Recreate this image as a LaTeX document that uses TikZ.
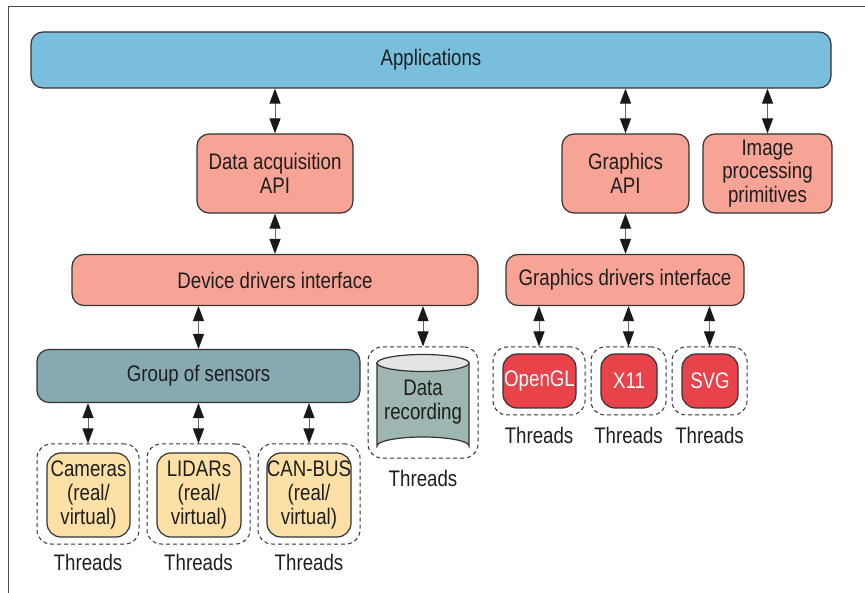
\documentclass[tikz,border=0pt]{standalone}
\usepackage{fontspec}
\setmainfont{Liberation Sans}[FakeStretch=0.83]
\usetikzlibrary{arrows.meta,calc}
\definecolor{ink}{HTML}{1E1E1E}
\definecolor{edge}{HTML}{333333}
\definecolor{appblue}{HTML}{79BFDD}
\definecolor{salmon}{HTML}{F7A395}
\definecolor{sensor}{HTML}{86A9B2}
\definecolor{sandy}{HTML}{FDE0A5}
\definecolor{gfxred}{HTML}{E8434A}
\definecolor{drumbody}{HTML}{9DB6B1}
\definecolor{drumtop}{HTML}{E3E5E5}
\definecolor{shaft}{HTML}{666666}
\begin{document}
\begin{tikzpicture}[x=1pt,y=-1pt,
  lbl/.style={font=\fontsize{22.5}{23.8}\selectfont, text=ink, align=center, inner sep=0pt},
  box/.style={lbl, draw=edge, line width=1.2pt, rounded corners=12pt},
  wrap/.style={draw=edge, line width=1pt, dash pattern=on 4pt off 3pt, rounded corners=14pt, inner sep=0pt},
  dbl/.style={draw=shaft, line width=1pt, {Triangle[length=15pt,width=11pt,color=black!90]}-{Triangle[length=15pt,width=11pt,color=black!90]}}
]
\useasboundingbox (0,0) rectangle (865,593);
% outer frame
\draw[line width=1pt, draw=black!70] (8,593) -- (8,7) -- (865,7);

% top layer
\node[box, fill=appblue, minimum width=800pt, minimum height=56pt] (app) at (431,60) {Applications};

% API layer
\node[box, fill=salmon, minimum width=156pt, minimum height=79pt] (dacq) at (275,173.5) {Data acquisition\\API};
\node[box, fill=salmon, minimum width=127pt, minimum height=79pt] (gapi) at (625.5,173.5) {Graphics\\API};
\node[box, fill=salmon, minimum width=129pt, minimum height=79pt] (imgp) at (767.5,173.5) {Image\\processing\\primitives};

% driver interfaces
\node[box, fill=salmon, minimum width=406pt, minimum height=51pt] (dev) at (275,280) {Device drivers interface};
\node[box, fill=salmon, minimum width=238pt, minimum height=51pt] (gdrv) at (625,280) {Graphics drivers interface};

% sensors
\node[box, fill=sensor, minimum width=323pt, minimum height=53pt] (group) at (198.5,376) {Group of sensors};

% sensor threads
\node[wrap, minimum width=102pt, minimum height=100pt] (camw) at (88,494) {};
\node[box, fill=sandy, rounded corners=14pt, minimum width=83pt, minimum height=84pt] (cam) at (88.5,495) {Cameras\\(real/\\virtual)};
\node[wrap, minimum width=103pt, minimum height=100pt] (lidw) at (198.5,494) {};
\node[box, fill=sandy, rounded corners=14pt, minimum width=84pt, minimum height=84pt] (lid) at (199,495) {LIDARs\\(real/\\virtual)};
\node[wrap, minimum width=102pt, minimum height=100pt] (canw) at (309,494) {};
\node[box, fill=sandy, rounded corners=14pt, minimum width=84pt, minimum height=84pt] (can) at (309,495) {CAN-BUS\\(real/\\virtual)};
\node[lbl] (camt) at (88,562) {Threads};
\node[lbl] (lidt) at (198.5,562) {Threads};
\node[lbl] (cant) at (309,562) {Threads};

% data recording
\node[wrap, minimum width=110pt, minimum height=111pt] (recw) at (423,402.5) {};
\filldraw[fill=drumbody, draw=edge, line width=1.2pt]
  (377,363) -- (377,446) arc[start angle=180, end angle=360, x radius=46pt, y radius=-9pt] -- (469,363) -- cycle;
\filldraw[fill=drumtop, draw=edge, line width=1.2pt] (423,363) ellipse[x radius=46pt, y radius=8.5pt];
\node[lbl] (rec) at (423,402) {Data\\recording};
\node[lbl] (rect) at (423,478) {Threads};

% graphics back-ends
\node[wrap, minimum width=92pt, minimum height=68pt] (oglw) at (539,381) {};
\node[box, fill=gfxred, text=white, rounded corners=14pt, minimum width=73pt, minimum height=54pt] (ogl) at (539.5,381) {OpenGL};
\node[wrap, minimum width=75pt, minimum height=68pt] (x11w) at (628.5,381) {};
\node[box, fill=gfxred, text=white, rounded corners=14pt, minimum width=56pt, minimum height=54pt] (x11) at (629,381) {X11};
\node[wrap, minimum width=75pt, minimum height=68pt] (svgw) at (709.5,381) {};
\node[box, fill=gfxred, text=white, rounded corners=14pt, minimum width=56pt, minimum height=54pt] (svg) at (710,381) {SVG};
\node[lbl] (oglt) at (539,435) {Threads};
\node[lbl] (x11t) at (628.5,435) {Threads};
\node[lbl] (svgt) at (709.5,435) {Threads};

% connectors
\draw[dbl] (app.south -| dacq.north) -- (dacq.north);
\draw[dbl] (app.south -| gapi.north) -- (gapi.north);
\draw[dbl] (app.south -| imgp.north) -- (imgp.north);
\draw[dbl] (dacq.south) -- (dev.north -| dacq.south);
\draw[dbl] (gapi.south) -- (gdrv.north -| gapi.south);
\draw[dbl] (dev.south -| group.north) -- (group.north);
\draw[dbl] (dev.south -| recw.north) -- (recw.north);
\draw[dbl] (group.south -| camw.north) -- (camw.north);
\draw[dbl] (group.south -| lidw.north) -- (lidw.north);
\draw[dbl] (group.south -| canw.north) -- (canw.north);
\draw[dbl] (gdrv.south -| oglw.north) -- (oglw.north);
\draw[dbl] (gdrv.south -| x11w.north) -- (x11w.north);
\draw[dbl] (gdrv.south -| svgw.north) -- (svgw.north);
\end{tikzpicture}
\end{document}
